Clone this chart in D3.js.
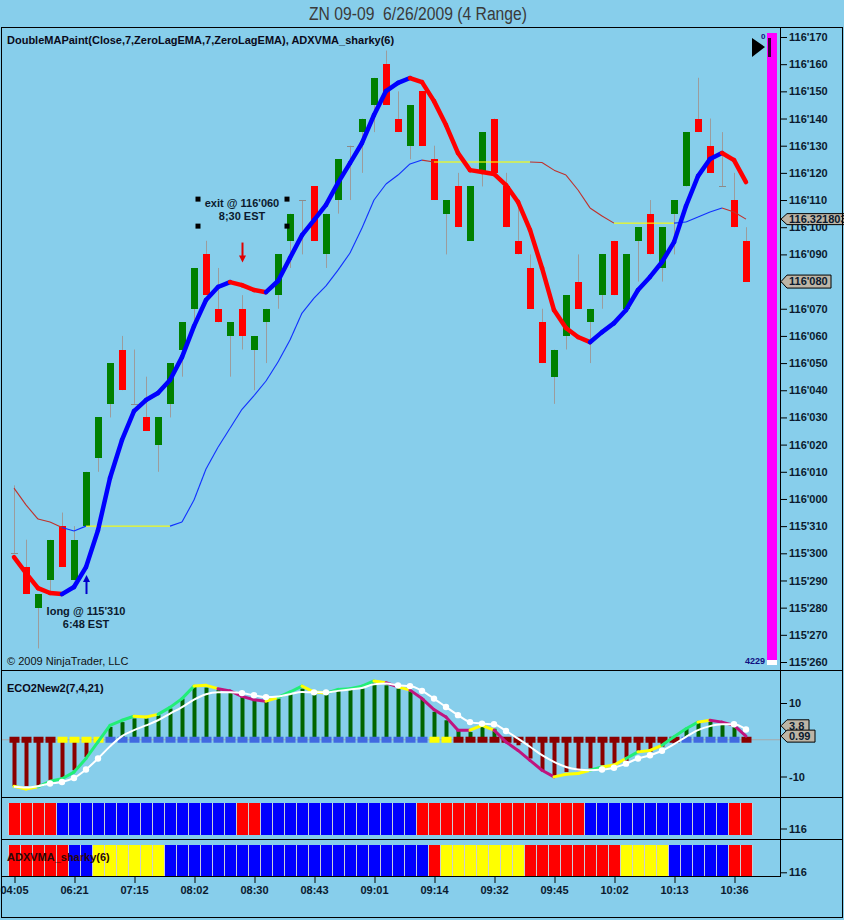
<!DOCTYPE html>
<html><head><meta charset="utf-8">
<script src="https://cdn.jsdelivr.net/npm/d3@7"></script>
<style>
html,body{margin:0;padding:0;background:#87CEEB;}
svg{display:block;}
text{font-family:"Liberation Sans",Arial,sans-serif;}
</style></head><body>
<svg id="c" width="844" height="920"></svg>
<script>
// ---------------- DATA ----------------
// prices are in 32nds of a point (116'170 = 116*32 + 17.0)
const title = "ZN 09-09  6/26/2009 (4 Range)";
const priceTickLabels = ["116'170","116'160","116'150","116'140","116'130","116'120","116'110","116'100","116'090","116'080","116'070","116'060","116'050","116'040","116'030","116'020","116'010","116'000","115'310","115'300","115'290","115'280","115'270","115'260"];
const timeLabels = ["04:05","06:21","07:15","08:02","08:30","08:43","09:01","09:14","09:32","09:45","10:02","10:13","10:36"];
const timeTickBars = [0,5,10,15,20,25,30,35,40,45,50,55,60];

const opens = [
 3710,3709.5,3708,3709,3711,3709,3711,3713.5,3715.5,3717.5,
 3715.5,3715,3714,3715.5,3717.5,3719,3721,3719,3718,3719,
 3717.5,3718.5,3719.5,3721.5,3723,3723.5,3721,3723,3725,3725.5,
 3726.5,3728,3726,3725,3727,3724.5,3722.5,3723.5,3721.5,3724,
 3726,3723.5,3721.5,3720.5,3718.5,3716.5,3718,3720,3718.5,3719.5,
 3721.5,3719,3721.5,3722.5,3720.5,3722.5,3723.5,3726,3725,3723.5,
 3723,3721.5];
const highs = [
 3712.5,3710.5,3708.5,3710.5,3711.5,3711,3713,3715,3717,3718,
 3717.5,3716.5,3715,3717,3718.5,3720.5,3721.5,3720.5,3718.5,3719.5,
 3718,3719,3721,3722.5,3723,3723.5,3722.5,3724.5,3725,3726,
 3727.5,3728.5,3727,3726.5,3727,3725,3723,3724,3723.5,3725.5,
 3726,3724,3723,3721,3719,3717.5,3719.5,3721,3719,3721,
 3721.5,3721,3722,3723,3722,3723,3725.5,3727.5,3726,3725.5,
 3724,3722];
const lows = [
 3710,3708.5,3706.5,3708.5,3709.5,3709,3711,3713,3715,3716,
 3715.5,3714.5,3713,3715,3716.5,3718.5,3719.5,3718.5,3716.5,3717.5,
 3716,3717,3719,3720.5,3721,3721.5,3720.5,3722.5,3723,3724,
 3725.5,3726.5,3725.5,3724.5,3725,3723,3721,3722,3721.5,3723.5,
 3724,3722,3721,3719,3717,3715.5,3717.5,3719,3717,3719,
 3719.5,3719,3720,3721,3720,3721,3723.5,3725.5,3724,3723.5,
 3722,3720];
const closes = [
 3710,3708.5,3708.5,3710.5,3709.5,3710.5,3713,3715,3717,3716,
 3715.5,3714.5,3715,3717,3718.5,3720.5,3719.5,3718.5,3718.5,3718,
 3718,3719,3721,3722.5,3723,3721.5,3722.5,3724.5,3725,3726,
 3727.5,3726.5,3725.5,3726.5,3725,3723,3723,3722,3723.5,3725.5,
 3724,3722,3721,3719,3717,3717.5,3719.5,3719,3719,3721,
 3719.5,3721,3722,3721,3722,3723,3725.5,3725.5,3724,3723.5,
 3722,3720];

// DoubleMAPaint (thick) and ADXVMA_sharky (thin), in 32nds
const doubleMA = [
 3709.86,3709.27,3708.72,3708.54,3708.50,3708.76,3709.49,3710.85,3712.77,3714.17,
 3715.23,3715.64,3715.90,3716.38,3717.22,3718.36,3719.32,3719.80,3719.98,3719.87,
 3719.69,3719.61,3720.02,3720.87,3721.71,3722.26,3722.82,3723.63,3724.36,3725.10,
 3726.13,3727.01,3727.31,3727.49,3727.34,3726.64,3725.76,3724.73,3724.10,3724.03,
 3723.96,3723.55,3722.93,3721.90,3720.50,3718.95,3718.29,3717.96,3717.77,3718.14,
 3718.47,3718.95,3719.69,3720.17,3720.72,3721.45,3722.78,3723.88,3724.51,3724.73,
 3724.47,3723.66];
// colour of segment i -> i+1  (R = down, B = up)
const doubleMAColors = "RRRR BBBBBBBBBBBBBB RRR BBBBBBBBBBBB RRRRRRRRRRRRRRR BBBBBBBBBBB RR";
const adxvma = [
 3712.40,3711.78,3711.26,3711.15,3710.95,3710.82,3711.00,3711.00,3711.00,3711.00,
 3711.00,3711.00,3711.00,3711.00,3711.15,3711.96,3713.10,3713.90,3714.60,3715.30,
 3715.80,3716.34,3717.04,3717.85,3718.84,3719.39,3719.84,3720.42,3721.05,3721.97,
 3723.00,3723.59,3723.92,3724.33,3724.47,3724.40,3724.40,3724.40,3724.40,3724.40,
 3724.40,3724.40,3724.40,3724.40,3724.38,3724.10,3723.92,3723.37,3722.71,3722.41,
 3722.15,3722.15,3722.15,3722.15,3722.15,3722.15,3722.19,3722.38,3722.56,3722.71,
 3722.56,3722.2977];
const adxvmaColors = "RRRR BB YYYYYYY BBBBBBBBBBBBBBBBBBBBB R YYYYYYYY RRRRRRR YYYYY BBBB RR";

// colour panels (one cell per bar)
const paintPanel = "RRRR BBBBBBBBBBBBBBB RR BBBBBBBBBBBBB RRRRRRRRRRRRRR BBBBBBBBBBBB RR";
const adxPanel   = "RRRRR BB YYYYYY BBBBBBBBBBBBBBBBBBBBBB R YYYYYYY RRRRRRRR YYYY BBBBB RR";

// ECO2New2(7,4,21)
const ecoHist = [
 -12.6,-12.6,-12.6,-11.0,-10.3,-8.3,-4.7,-0.6,3.5,4.8,
 5.8,5.8,6.7,8.5,11.2,14.4,14.2,13.5,12.7,11.8,
 10.9,10.3,11.2,12.6,13.9,12.6,12.7,13.5,13.9,14.6,
 15.5,14.8,13.9,13.3,11.2,7.6,5.3,2.6,2.1,3.5,
 3.0,-0.3,-1.5,-5.1,-8.3,-10.1,-8.8,-8.3,-7.8,-6.9,
 -6.5,-5.8,-3.3,-3.3,-1.9,-1.0,3.0,4.8,5.3,4.4,
 3.5,-0.3];
const ecoLine = [
 -12.65,-13.4,-12.8,-11.3,-10.6,-8.8,-5.1,-0.6,3.9,5.3,
 6.4,6.2,6.9,8.8,11.2,14.6,14.8,13.9,13.3,11.8,
 10.9,10.5,11.5,13.0,14.6,13.0,12.7,13.7,13.9,14.6,
 16.0,15.5,14.4,13.5,11.2,8.2,6.2,2.6,2.6,3.9,
 2.6,-0.6,-2.9,-5.6,-8.3,-10.1,-9.4,-9.2,-8.3,-7.4,
 -6.9,-5.1,-3.3,-2.9,-1.5,0.8,3.0,4.8,5.3,4.8,
 3.9,0.99];
const ecoSignal = [
 -12.8,-13.0,-12.65,-11.9,-11.5,-10.4,-8.1,-5.1,-1.8,1.0,
 2.6,3.9,5.3,7.1,8.9,10.9,12.4,12.9,12.9,12.7,
 12.1,11.6,11.8,12.4,13.0,12.9,12.9,13.3,13.7,14.1,
 15.1,15.3,14.8,14.6,13.3,11.2,8.9,6.7,4.8,4.4,
 4.2,2.4,0.3,-1.9,-4.2,-6.0,-7.4,-8.1,-8.3,-8.1,
 -7.6,-6.5,-5.1,-4.2,-3.0,-1.2,0.8,2.6,3.7,4.2,
 4.2,2.8];
// colour of eco line segment ending at bar i (g = rising, m = falling, y = flat)
const ecoColors = "yyyggggggg gyygggyymm mmyggyyggg gymymmmmmy ymmmmmyyyg yygyygggym mm";
// zero-line marker colour per bar
const ecoZero = "DDDD YYYY BBBBBBBBBBBBBBBBBBBBBBBBBBB YY DDDDDDDDDDDDDDDDDDD BBBBB D";
const signalDots = [3,4,5,6,7,19,20,21,25,26,32,33,34,35,36,37,38,39,40,41,49,50,51,52,53,54,60,61];
const oscTickValues = [10,-10];
const oscLastMarks = [3.8, 0.99];

// annotations
const exitNote = {bar:19, price:3722.85, lines:["exit @ 116'060","8;30 EST"]};
const longNote = {bar:6, price:3707.84, lines:["long @ 115'310","6:48 EST"]};
const downArrow = {bar:19, price:3720.7};
const upArrow = {bar:6, price:3709.2};
const volumeCount = "4229";

// ---------------- DRAW ----------------
const svg = d3.select("#c");
const BG = "#87CEEB", INK = "#0b1a2e";
const toArr = s => s.replace(/ /g,"").split("");
const parse32 = s => { const [a,b] = s.split("'"); return (+a)*32 + (+b)/10; };
const fmt32 = v => { const w = Math.floor(v/32 + 1e-9); const f = Math.round((v - w*32)*10); return w + "'" + String(f).padStart(3,"0"); };

svg.append("rect").attr("width",844).attr("height",920).attr("fill",BG);

const x = d3.scaleLinear().domain([0,61]).range([14,746]);
const priceTicks = priceTickLabels.map(parse32);
const y = d3.scaleLinear().domain([d3.min(priceTicks), d3.max(priceTicks)]).range([662,37]);
const yO = d3.scaleLinear().domain([-10,10]).range([776.5,703]);
const yB1 = d3.scaleLinear().domain([115.75,116.75]).range([839,797]);
const yB2 = d3.scaleLinear().domain([115.9,116.9]).range([876,839]);

// title (condensed look)
svg.append("text").attr("x",418).attr("y",20).attr("text-anchor","middle")
  .attr("font-size",18).attr("fill","#3a3a3a")
  .attr("textLength",218).attr("lengthAdjust","spacingAndGlyphs")
  .style("white-space","pre").text(title);

// ---- main price panel ----
const gMain = svg.append("g");
const idx = d3.range(opens.length);

// candles
gMain.selectAll("line.wick").data(idx).join("line").attr("class","wick")
  .attr("x1",i=>x(i)+0.5).attr("x2",i=>x(i)+0.5)
  .attr("y1",i=>y(highs[i])).attr("y2",i=>y(lows[i]))
  .attr("stroke","#9c9c9c").attr("stroke-width",1);
gMain.selectAll("rect.body").data(idx).join("rect").attr("class","body")
  .attr("x",i=>x(i)-3).attr("width",7)
  .attr("y",i=>y(Math.max(opens[i],closes[i])))
  .attr("height",i=>Math.max(1, Math.abs(y(opens[i])-y(closes[i]))))
  .attr("fill",i=>closes[i]>opens[i]?"#008000":(closes[i]<opens[i]?"#FF0000":"#8a8a8a"))
  .attr("shape-rendering","crispEdges");

// ADXVMA thin line
const adxCol = {R:"#C0302A",B:"#1030FF",Y:"#FFFF00"};
const adxC = toArr(adxvmaColors);
gMain.selectAll("line.adx").data(d3.range(adxvma.length-1)).join("line").attr("class","adx")
  .attr("x1",i=>x(i)).attr("y1",i=>y(adxvma[i])).attr("x2",i=>x(i+1)).attr("y2",i=>y(adxvma[i+1]))
  .attr("stroke",i=>adxCol[adxC[i]]).attr("stroke-width",1.1);

// DoubleMAPaint thick line
const maCol = {R:"#FF0000",B:"#0000FF"};
const maC = toArr(doubleMAColors);
gMain.selectAll("line.ma").data(d3.range(doubleMA.length-1)).join("line").attr("class","ma")
  .attr("x1",i=>x(i)).attr("y1",i=>y(doubleMA[i])).attr("x2",i=>x(i+1)).attr("y2",i=>y(doubleMA[i+1]))
  .attr("stroke",i=>maCol[maC[i]]).attr("stroke-width",4.5).attr("stroke-linecap","round");

// annotations
function note(n){
  const t = gMain.append("text").attr("x",x(n.bar)).attr("y",y(n.price))
    .attr("text-anchor","middle").attr("font-size",11).attr("font-weight","bold").attr("fill",INK)
    .attr("dominant-baseline","middle");
  n.lines.forEach((l,k)=>t.append("tspan").attr("x",x(n.bar)).attr("dy",k?13:0).text(l));
}
note(exitNote); note(longNote);
// selection handles of the exit text
[[-44,-5],[45,-5],[-44,22],[45,22]].forEach(([dx,dy])=>{
  gMain.append("rect").attr("x",x(exitNote.bar)+dx-2.5).attr("y",y(exitNote.price)+dy-2.5)
    .attr("width",5).attr("height",5).attr("fill","#000");
});
// arrows
{
  const ax = x(downArrow.bar)+0.5, ay = y(downArrow.price);
  gMain.append("line").attr("x1",ax).attr("x2",ax).attr("y1",ay-20).attr("y2",ay-6).attr("stroke","#E00000").attr("stroke-width",2);
  gMain.append("path").attr("d",`M${ax},${ay} L${ax-3.5},${ay-7} L${ax+3.5},${ay-7} Z`).attr("fill","#E00000");
  const bx = x(upArrow.bar)+0.5, by = y(upArrow.price);
  gMain.append("line").attr("x1",bx).attr("x2",bx).attr("y1",by+6).attr("y2",by+19).attr("stroke","#0000CC").attr("stroke-width",2);
  gMain.append("path").attr("d",`M${bx},${by} L${bx-3.5},${by+7} L${bx+3.5},${by+7} Z`).attr("fill","#0000CC");
}

// header texts
svg.append("text").attr("x",7).attr("y",44).attr("font-size",11).attr("font-weight","bold").attr("fill","#0a0a1a")
  .text("DoubleMAPaint(Close,7,ZeroLagEMA,7,ZeroLagEMA), ADXVMA_sharky(6)");
svg.append("text").attr("x",7).attr("y",665).attr("font-size",11).attr("fill","#111").text("\u00A9 2009 NinjaTrader, LLC");

// magenta timer bar
svg.append("rect").attr("x",767).attr("y",33).attr("width",10).attr("height",627).attr("fill","#FF00FF");
svg.append("rect").attr("x",767).attr("y",660).attr("width",10).attr("height",5).attr("fill","#FFFFFF");
svg.append("rect").attr("x",768).attr("y",38).attr("width",3).attr("height",19).attr("fill","#3a0038");
svg.append("path").attr("d","M752,38 L765,47 L752,57 Z").attr("fill","#000");
svg.append("text").attr("x",761).attr("y",39).attr("font-size",8).attr("font-weight","bold").attr("fill","#101080").text("0");
svg.append("text").attr("x",765).attr("y",664).attr("text-anchor","end").attr("font-size",9).attr("font-weight","bold").attr("fill","#101080").text(volumeCount);

// price axis
const axP = svg.append("g").attr("transform","translate(780,0)")
  .call(d3.axisRight(y).tickValues(priceTicks).tickFormat(fmt32).tickSize(7).tickPadding(2));
axP.select(".domain").remove();

// price markers (ADXVMA value and last price)
function marker(g, yy, txt, w, h){
  g.append("path").attr("d",`M781,${yy} L787,${yy-h/2} L${787+w},${yy-h/2} L${787+w},${yy+h/2} L787,${yy+h/2} Z`)
   .attr("fill","#BDB5A6").attr("stroke","#000").attr("stroke-width",1);
  g.append("text").attr("x",789).attr("y",yy).attr("dy","0.35em").attr("font-size",11).attr("font-weight","bold").attr("fill",INK).text(txt);
}
const gMk = svg.append("g");
marker(gMk, y(adxvma[adxvma.length-1]), (adxvma[adxvma.length-1]/32).toFixed(6), 62, 11);
marker(gMk, y(closes[closes.length-1]), fmt32(closes[closes.length-1]), 44, 13);

// ---- oscillator panel ----
const gO = svg.append("g");
gO.append("line").attr("x1",1).attr("x2",780).attr("y1",yO(0)).attr("y2",yO(0)).attr("stroke","#A8A8A8");
gO.selectAll("line.h").data(idx).join("line").attr("class","h")
  .attr("x1",i=>x(i)+0.5).attr("x2",i=>x(i)+0.5).attr("y1",yO(0)).attr("y2",i=>yO(ecoHist[i]))
  .attr("stroke",i=>ecoHist[i]>=0?"#006400":"#8B0000").attr("stroke-width",4);
const zC = toArr(ecoZero), zCol = {D:"#8B0000",Y:"#FFFF00",B:"#4169E1"};
gO.selectAll("rect.z").data(idx).join("rect").attr("class","z")
  .attr("x",i=>x(i)-4.5).attr("width",10).attr("y",yO(0)-3).attr("height",6)
  .attr("fill",i=>zCol[zC[i]]);
const eC = toArr(ecoColors), eCol = {g:"#22EE77",m:"#C0147E",y:"#FFFF00"};
gO.selectAll("line.e").data(d3.range(1,ecoLine.length)).join("line").attr("class","e")
  .attr("x1",i=>x(i-1)).attr("y1",i=>yO(ecoLine[i-1])).attr("x2",i=>x(i)).attr("y2",i=>yO(ecoLine[i]))
  .attr("stroke",i=>eCol[eC[i]]).attr("stroke-width",3).attr("stroke-linecap","round");
gO.append("path").datum(ecoSignal)
  .attr("d",d3.line().x((d,i)=>x(i)).y(d=>yO(d)).curve(d3.curveMonotoneX))
  .attr("fill","none").attr("stroke","#FFFFFF").attr("stroke-width",2);
gO.selectAll("circle.s").data(signalDots).join("circle").attr("class","s")
  .attr("cx",i=>x(i)).attr("cy",i=>yO(ecoSignal[i])).attr("r",3.2).attr("fill","#FFFFFF");
svg.append("text").attr("x",7).attr("y",692).attr("font-size",11).attr("font-weight","bold").attr("fill","#0a0a1a").text("ECO2New2(7,4,21)");
const axO = svg.append("g").attr("transform","translate(780,0)")
  .call(d3.axisRight(yO).tickValues(oscTickValues).tickFormat(d=>String(d)).tickSize(7).tickPadding(2));
axO.select(".domain").remove();
oscLastMarks.forEach(v=>{
  const w = String(v).length*6+4;
  marker(gO, yO(v), String(v), w, 12);
});

// ---- colour panels ----
const pCol = {R:"#FF0000",B:"#0000FF",Y:"#FFFF00"};
const p1 = toArr(paintPanel), p2 = toArr(adxPanel);
const gB = svg.append("g");
gB.append("rect").attr("x",x(0)-6).attr("y",803).attr("width",x(61)-x(0)+13).attr("height",32).attr("fill","#C9CED6");
gB.append("rect").attr("x",x(0)-6).attr("y",845).attr("width",x(61)-x(0)+13).attr("height",31).attr("fill","#C9CED6");
gB.selectAll("rect.p1").data(idx).join("rect").attr("class","p1")
  .attr("x",i=>x(i)-5).attr("width",11).attr("y",803).attr("height",32).attr("fill",i=>pCol[p1[i]]);
gB.selectAll("rect.p2").data(idx).join("rect").attr("class","p2")
  .attr("x",i=>x(i)-5).attr("width",11).attr("y",845).attr("height",31).attr("fill",i=>pCol[p2[i]]);
svg.append("text").attr("x",7).attr("y",861).attr("font-size",11).attr("font-weight","bold").attr("fill","#2a0808").text("ADXVMA_sharky(6)");
[yB1,yB2].forEach(s=>{
  const a = svg.append("g").attr("transform","translate(780,0)")
    .call(d3.axisRight(s).tickValues([116]).tickFormat(d=>String(d)).tickSize(7).tickPadding(2));
  a.select(".domain").remove();
});

// time axis
const axT = svg.append("g").attr("transform","translate(0,876)")
  .call(d3.axisBottom(x).tickValues(timeTickBars).tickFormat((d,i)=>timeLabels[i]).tickSize(7).tickPadding(3));
axT.select(".domain").remove();
axT.selectAll(".tick line").attr("transform","translate(0.5,0)");

svg.selectAll(".tick text").attr("font-size",11).attr("font-weight","bold").attr("fill",INK)
  .style("font-family","'Liberation Sans',Arial,sans-serif");
svg.selectAll(".tick line").attr("stroke","#000");

// frame
const fr = svg.append("g").attr("stroke","#000").attr("stroke-width",1).attr("shape-rendering","crispEdges");
[[1,27.5,843,27.5],[1,670.5,843,670.5],[1,797.5,843,797.5],[1,839.5,843,839.5],[1,876.5,780,876.5],[1,917.5,843,917.5],
 [1.5,27,1.5,918],[842.5,27,842.5,918],[780.5,27,780.5,877]].forEach(([a,b,c,d])=>{
  fr.append("line").attr("x1",a).attr("y1",b).attr("x2",c).attr("y2",d);
});
</script>
</body></html>
